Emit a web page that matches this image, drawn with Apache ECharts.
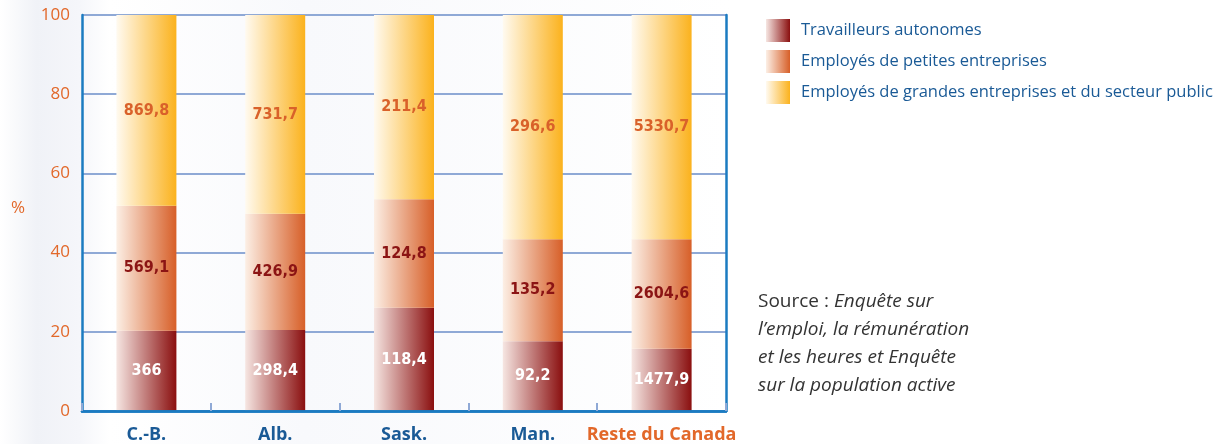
<!DOCTYPE html>
<html>
<head>
<meta charset="utf-8">
<script src="https://cdn.jsdelivr.net/npm/echarts@6/dist/echarts.min.js"></script>
<style>
  html, body { margin: 0; padding: 0; background: #fff; }
  #chart { width: 1217px; height: 444px; }
</style>
</head>
<body>
<div id="chart"></div>
<script>
// catégories (provinces)
const categories = ['C.-B.', 'Alb.', 'Sask.', 'Man.', 'Reste du Canada']
// effectifs en milliers
const autonomes = [366, 298.4, 118.4, 92.2, 1477.9]
const petites = [569.1, 426.9, 124.8, 135.2, 2604.6]
const grandes = [869.8, 731.7, 211.4, 296.6, 5330.7]
const seriesNames = [
  'Travailleurs autonomes',
  'Employés de petites entreprises',
  'Employés de grandes entreprises et du secteur public'
]
const yTicks = [0, 20, 40, 60, 80, 100]

// part en % de chaque catégorie (graphique empilé à 100 %)
const totals = categories.map((c, i) => autonomes[i] + petites[i] + grandes[i])
const share = arr => arr.map((v, i) => (v / totals[i]) * 100)

// 1477.9 -> "1477,9" ; 366 -> "366"
const fmt = v => (Number.isInteger(v) ? String(v) : v.toFixed(1).replace('.', ','))

const grad = (from, to) =>
  new echarts.graphic.LinearGradient(0, 0, 1, 0, [
    { offset: 0, color: from },
    { offset: 1, color: to }
  ])

const FONT = '"Open Sans", "Noto Sans", sans-serif'
const FRAME = '#1b7bc1'

const chart = echarts.init(document.getElementById('chart'))

const makeSeries = (name, counts, color, labelColor) => ({
  name: name,
  type: 'bar',
  stack: 'total',
  barWidth: 60,
  xAxisIndex: 0,
  yAxisIndex: 0,
  z: 2,
  itemStyle: { color: color },
  label: {
    show: true,
    position: 'inside',
    color: labelColor,
    fontFamily: '"Liberation Sans Narrow", "DejaVu Sans Condensed", sans-serif',
    fontWeight: 'bold',
    fontSize: 16,
    formatter: p => fmt(counts[p.dataIndex])
  },
  data: share(counts)
})

chart.setOption({
  animation: false,
  textStyle: { fontFamily: FONT },
  grid: { left: 82, right: 491, top: 15, bottom: 32 },
  /* légende */
  legend: {
    orient: 'vertical',
    left: 766,
    top: 19,
    padding: 0,
    itemWidth: 24,
    itemHeight: 23,
    itemGap: 8,
    icon: 'rect',
    textStyle: { color: '#1a5a96', fontSize: 16.5, fontFamily: FONT, padding: [0, 0, 0, 6] },
    data: seriesNames
  },
  xAxis: [
    {
      type: 'category',
      data: categories,
      z: 5,
      axisLine: { lineStyle: { color: FRAME, width: 2.5 } },
      axisTick: { show: true, inside: true, length: 8, lineStyle: { color: '#8fa9d6', width: 2 } },
      axisLabel: {
        interval: 0,
        margin: 15,
        formatter: (v, i) => (i === categories.length - 1 ? '{o|' + v + '}' : '{b|' + v + '}'),
        rich: {
          b: { color: '#1a5a96', fontWeight: 'bold', fontSize: 18, fontFamily: FONT },
          o: { color: '#e2682a', fontWeight: 'bold', fontSize: 18, fontFamily: FONT }
        }
      }
    },
    {
      type: 'category',
      data: categories,
      position: 'top',
      z: 5,
      axisLine: { lineStyle: { color: FRAME, width: 2.5 } },
      axisTick: { show: false },
      axisLabel: { show: false }
    }
  ],
  yAxis: [
    {
      // axe gauche : étiquettes + lignes de quadrillage, derrière les barres
      type: 'value',
      min: 0,
      max: 100,
      interval: 20,
      z: 0,
      axisLine: { show: true, lineStyle: { color: FRAME, width: 2.5 } },
      axisTick: { show: false },
      axisLabel: {
        color: '#e2682a',
        fontSize: 17,
        margin: 12,
        formatter: v => (yTicks.includes(v) ? String(v) : '')
      },
      splitLine: { lineStyle: { color: '#8fa9d6', width: 2 } }
    },
    {
      // cadre droit
      type: 'value',
      min: 0,
      max: 100,
      interval: 20,
      position: 'right',
      z: 5,
      axisLine: { show: true, lineStyle: { color: FRAME, width: 2.5 } },
      axisTick: { show: false },
      axisLabel: { show: false },
      splitLine: { show: false }
    }
  ],
  series: [
    makeSeries(seriesNames[0], autonomes, grad('#f6e6e2', '#8a0f0f'), '#ffffff'),
    makeSeries(seriesNames[1], petites, grad('#fcefe5', '#d75f28'), '#8b1414'),
    makeSeries(seriesNames[2], grandes, grad('#fffaf0', '#fbb21d'), '#d9612a')
  ],
  graphic: [
    // fond légèrement bleuté à gauche
    {
      type: 'rect',
      z: -10,
      silent: true,
      shape: { x: 0, y: 0, width: 1217, height: 444 },
      style: {
        fill: new echarts.graphic.LinearGradient(0, 0, 1, 0, [
          { offset: 0, color: '#ffffff' },
          { offset: 0.03, color: '#f0f2f7' },
          { offset: 0.065, color: '#f5f6fa' },
          { offset: 0.09, color: '#ffffff' },
          { offset: 0.25, color: '#f8f9fc' },
          { offset: 0.6, color: '#ffffff' },
          { offset: 1, color: '#ffffff' }
        ])
      }
    },
    {
      type: 'text',
      left: 11,
      top: 200,
      style: { text: '%', fill: '#e2682a', fontSize: 17, fontFamily: FONT }
    },
    {
      type: 'text',
      left: 758,
      top: 288,
      style: {
        text: '{r|Source :}{i| Enquête sur}\n{i|l’emploi, la rémunération}\n{i|et les heures et Enquête}\n{i|sur la population active}',
        fill: '#333333',
        fontFamily: FONT,
        fontSize: 19,
        lineHeight: 28,
        rich: {
          r: { fontSize: 19, fontFamily: FONT, fill: '#333333', lineHeight: 28 },
          i: { fontSize: 19, fontFamily: FONT, fontStyle: 'italic', fill: '#333333', lineHeight: 28 }
        }
      }
    }
  ]
})
</script>
</body>
</html>
